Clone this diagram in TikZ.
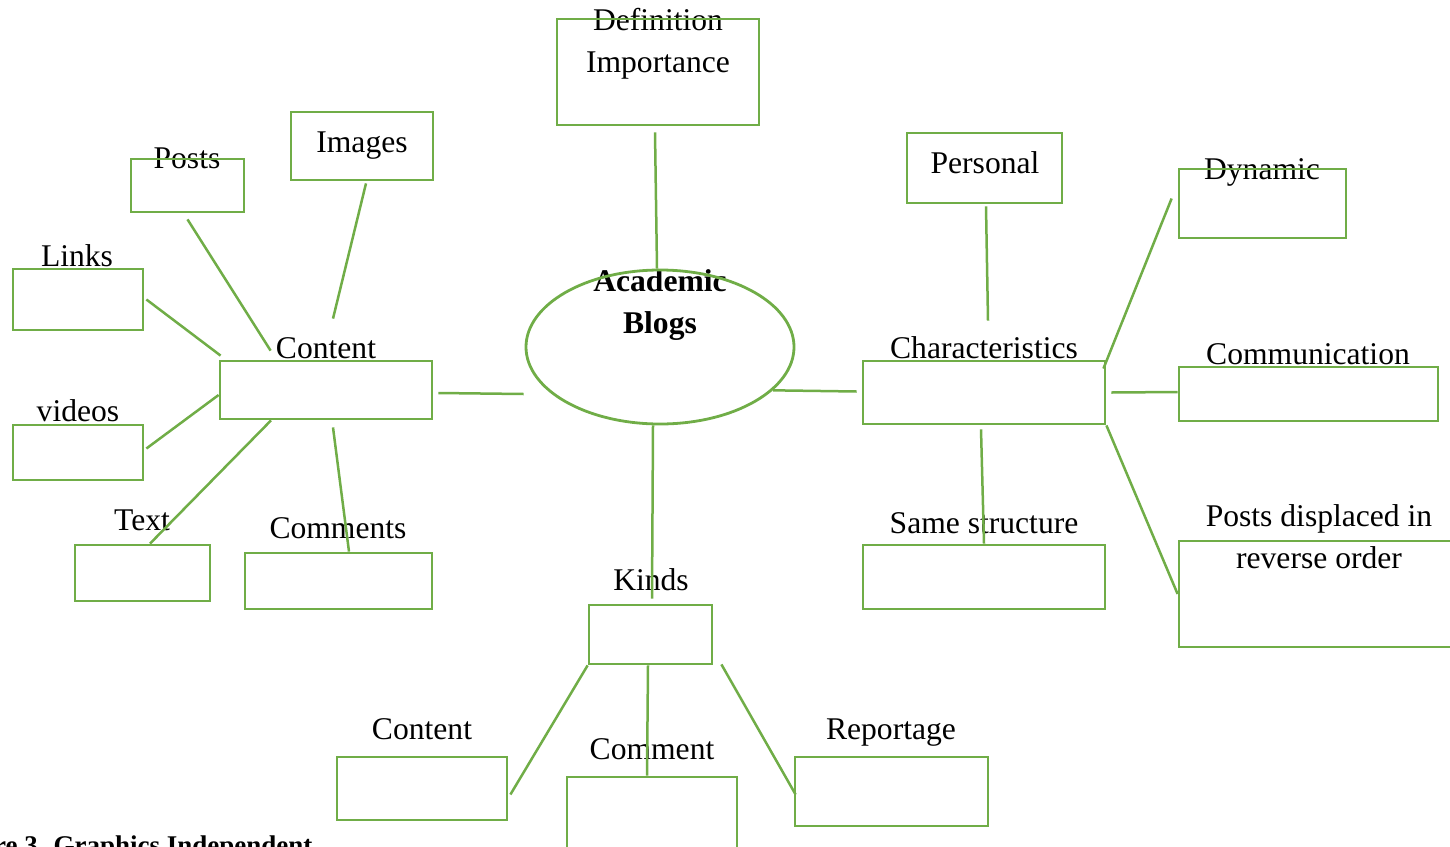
\documentclass[tikz,border=0pt]{standalone}
\usepackage{fontspec}
\setmainfont{Liberation Serif}
\usetikzlibrary{positioning}
\usetikzlibrary{shapes.geometric}

\definecolor{boxgreen}{HTML}{70AD47}
\tikzset{
  box/.style={draw=boxgreen,line width=2.8pt,rectangle,inner sep=0pt},
  lbl/.style={anchor=base,inner sep=0pt,font=\fontsize{31.6}{38}\selectfont},
  link/.style={draw=boxgreen,line width=2.5pt}
}

\begin{document}
\begin{tikzpicture}[x=1pt,y=-1pt]
\useasboundingbox (0,0) rectangle (1450,846);

% labels
\node[lbl] (tdef) at (658,30) {Definition};
\node[lbl] (timp) at (658,72) {Importance};
\node[lbl] (tposts) at (187,168) {Posts};
\node[lbl] (timages) at (362,152) {Images};
\node[lbl] (tlinks) at (77,266) {Links};
\node[lbl] (tcontent) at (326,358) {Content};
\node[lbl] (tvideos) at (78,421) {videos};
\node[lbl] (ttext) at (142,530) {Text};
\node[lbl] (tcomments) at (338,538) {Comments};
\node[lbl,font=\fontsize{31.6}{38}\selectfont\bfseries] (tacad) at (660,291) {Academic};
\node[lbl,font=\fontsize{31.6}{38}\selectfont\bfseries] (tblogs) at (660,333) {Blogs};
\node[lbl] (tpersonal) at (985,173) {Personal};
\node[lbl] (tdynamic) at (1262,179) {Dynamic};
\node[lbl] (tcharac) at (984,358) {Characteristics};
\node[lbl] (tcomm) at (1308,364) {Communication};
\node[lbl] (tsame) at (984,533) {Same structure};
\node[lbl] (trev1) at (1319,526) {Posts displaced in};
\node[lbl] (trev2) at (1319,568) {reverse order};
\node[lbl] (tkinds) at (651,590) {Kinds};
\node[lbl] (tkcontent) at (422,739) {Content};
\node[lbl] (tkcomment) at (652,759) {Comment};
\node[lbl] (treport) at (891,739) {Reportage};
\node[lbl,anchor=base west,font=\fontsize{27}{32}\selectfont\bfseries] (caption) at (-6,854) {re 3. Graphics Independent};

% boxes
\node[box,minimum width=202pt,minimum height=106pt] (defbox) at (658,72) {};
\node[box,minimum width=113pt,minimum height=53pt] (posts) at (187.5,185.5) {};
\node[box,minimum width=142pt,minimum height=68pt] (images) at (362,146) {};
\node[box,minimum width=130pt,minimum height=61pt] (links) at (78,299.5) {};
\node[box,minimum width=212pt,minimum height=58pt] (content) at (326,390) {};
\node[box,minimum width=130pt,minimum height=55pt] (videos) at (78,452.5) {};
\node[box,minimum width=135pt,minimum height=56pt] (text) at (142.5,573) {};
\node[box,minimum width=187pt,minimum height=56pt] (comments) at (338.5,581) {};
\node[draw=boxgreen,line width=2.8pt,ellipse,inner sep=0pt,minimum width=268pt,minimum height=154pt] (blogs) at (660,347) {};
\node[box,minimum width=155pt,minimum height=70pt] (personal) at (984.5,168) {};
\node[box,minimum width=167pt,minimum height=69pt] (dynamic) at (1262.5,203.5) {};
\node[box,minimum width=242pt,minimum height=63pt] (charac) at (984,392.5) {};
\node[box,minimum width=259pt,minimum height=54pt] (communication) at (1308.5,394) {};
\node[box,minimum width=242pt,minimum height=64pt] (samestr) at (984,577) {};
\node[box,minimum width=282pt,minimum height=106pt] (reverse) at (1320,594) {};
\node[box,minimum width=123pt,minimum height=59pt] (kinds) at (650.5,634.5) {};
\node[box,minimum width=170pt,minimum height=63pt] (kcontent) at (422,788.5) {};
\node[box,minimum width=170pt,minimum height=92pt] (kcomment) at (652,823) {};
\node[box,minimum width=193pt,minimum height=69pt] (reportage) at (891.5,791.5) {};

% connectors
\draw[link] ([xshift=-3pt,yshift=-6pt]defbox.south) -- ([xshift=-3pt]blogs.north);
\draw[link] ([yshift=-6pt]posts.south) -- ([xshift=52pt,yshift=9pt]content.north west);
\draw[link] ([xshift=4pt,yshift=-2pt]images.south) -- ([xshift=7pt,yshift=41pt]content.north);
\draw[link] ([xshift=2pt]links.east) -- ([xshift=2pt,yshift=4pt]content.north west);
\draw[link] ([xshift=2pt,yshift=4pt]videos.east) -- ([yshift=-5pt]content.west);
\draw[link] ([xshift=7.5pt]text.north) -- ([xshift=-55pt]content.south);
\draw[link] ([xshift=10.5pt]comments.north) -- ([xshift=7pt,yshift=-7pt]content.south);
\draw[link] ([xshift=5pt,yshift=-3pt]content.east) -- ([xshift=-1pt,yshift=-47pt]blogs.west);
\draw[link] (blogs.-21) -- ([xshift=-5pt,yshift=1pt]charac.west);
\draw[link] ([xshift=1.5pt,yshift=-2pt]personal.south) -- ([xshift=4pt,yshift=39pt]charac.north);
\draw[link] ([xshift=-6pt,yshift=5pt]dynamic.west) -- ([xshift=-3pt,yshift=-9pt]charac.north east);
\draw[link] ([xshift=5pt]charac.east) -- ([yshift=2pt]communication.west);
\draw[link] (charac.south east) -- (reverse.west);
\draw[link] ([xshift=-3pt,yshift=-4pt]charac.south) -- (samestr.north);
\draw[link] ([xshift=-7pt]blogs.south) -- ([xshift=1.5pt,yshift=5pt]kinds.north);
\draw[link] (kinds.south west) -- ([xshift=2pt,yshift=-6pt]kcontent.east);
\draw[link] ([xshift=-2.5pt]kinds.south) -- ([xshift=-5pt]kcomment.north);
\draw[link] ([xshift=8pt,yshift=1pt]kinds.south east) -- ([xshift=2pt,yshift=-3pt]reportage.west);

\end{tikzpicture}
\end{document}
